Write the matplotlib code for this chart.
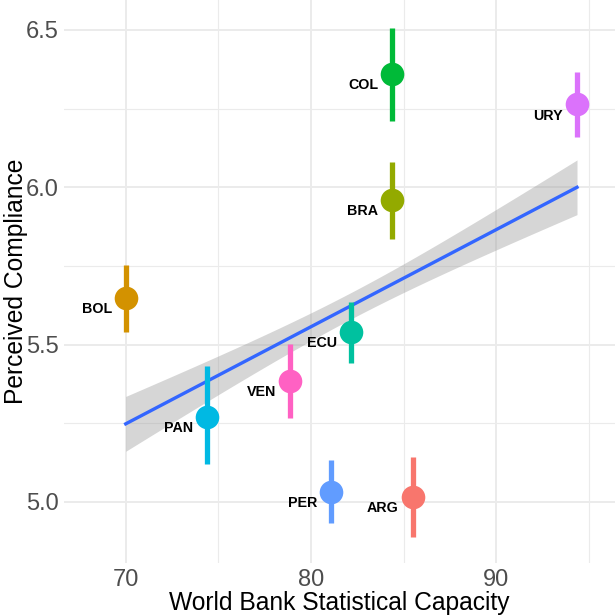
import matplotlib
matplotlib.use("Agg")
import matplotlib.pyplot as plt
import numpy as np

# datos
paises = ["ARG", "BOL", "BRA", "COL", "ECU", "PAN", "PER", "URY", "VEN"]
capacidad = [85.48, 70.0, 84.37, 84.37, 82.17, 74.4, 81.08, 94.35, 78.85]
cumplimiento = [5.016, 5.648, 5.961, 6.361, 5.541, 5.270, 5.032, 6.263, 5.385]
limite_inf = [4.889, 5.540, 5.837, 6.210, 5.440, 5.121, 4.933, 6.159, 5.266]
limite_sup = [5.143, 5.752, 6.080, 6.507, 5.636, 5.432, 5.133, 6.365, 5.502]
colores = ["#F8766D", "#D39200", "#93AA00", "#00BA38", "#00C19F",
           "#00B9E3", "#619CFF", "#DB72FB", "#FF61C3"]

# banda de confianza
ic_centro = 82.2
ic_min = 0.042
ic_pend = 0.00626

plt.rcParams["font.family"] = ["Liberation Sans", "DejaVu Sans"]

fig = plt.figure(figsize=(6.15, 6.15), dpi=100)
ax = fig.add_axes([64 / 615, 52 / 615, 551 / 615, 563 / 615])

# recta de regresion
x = np.array(capacidad)
y = np.array(cumplimiento)
b, a = np.polyfit(x, y, 1)
xs = np.linspace(x.min(), x.max(), 80)
ys = a + b * xs
hw = np.sqrt(ic_min ** 2 + (ic_pend * (xs - ic_centro)) ** 2)
ax.fill_between(xs, ys - hw, ys + hw, color="#999999", alpha=0.4, lw=0, zorder=2)
ax.plot(xs, ys, color="#3366FF", lw=2.4, zorder=3)

# puntos y barras
for i in range(len(paises)):
    ax.plot([capacidad[i], capacidad[i]], [limite_inf[i], limite_sup[i]],
            color=colores[i], lw=3.8, solid_capstyle="butt", zorder=4)
    ax.plot(capacidad[i], cumplimiento[i], "o", color=colores[i], ms=17, mew=0, zorder=5)
    ax.annotate(paises[i], (capacidad[i], cumplimiento[i]), xytext=(-10, -8),
                textcoords="offset points", ha="right", va="center",
                fontsize=10.3, fontweight="bold", color="black", zorder=6)

ax.set_xlim(66.67, 96.4)
ax.set_ylim(4.806, 6.595)
ax.set_xticks([70, 80, 90])
ax.set_xticks([75, 85, 95], minor=True)
ax.set_yticks([5.0, 5.5, 6.0, 6.5])
ax.set_yticks([5.25, 5.75, 6.25], minor=True)
ax.grid(True, which="major", color="#EBEBEB", lw=1.4)
ax.grid(True, which="minor", color="#EBEBEB", lw=0.8)
ax.set_axisbelow(True)
for sp in ax.spines.values():
    sp.set_visible(False)
ax.tick_params(which="both", length=0, labelsize=17, labelcolor="#4D4D4D", pad=4)
ax.set_xlabel("World Bank Statistical Capacity", fontsize=17.7, color="black", labelpad=0)
ax.set_ylabel("Perceived Compliance", fontsize=17.7, color="black", labelpad=-2)

plt.savefig("out.png", dpi=100)
